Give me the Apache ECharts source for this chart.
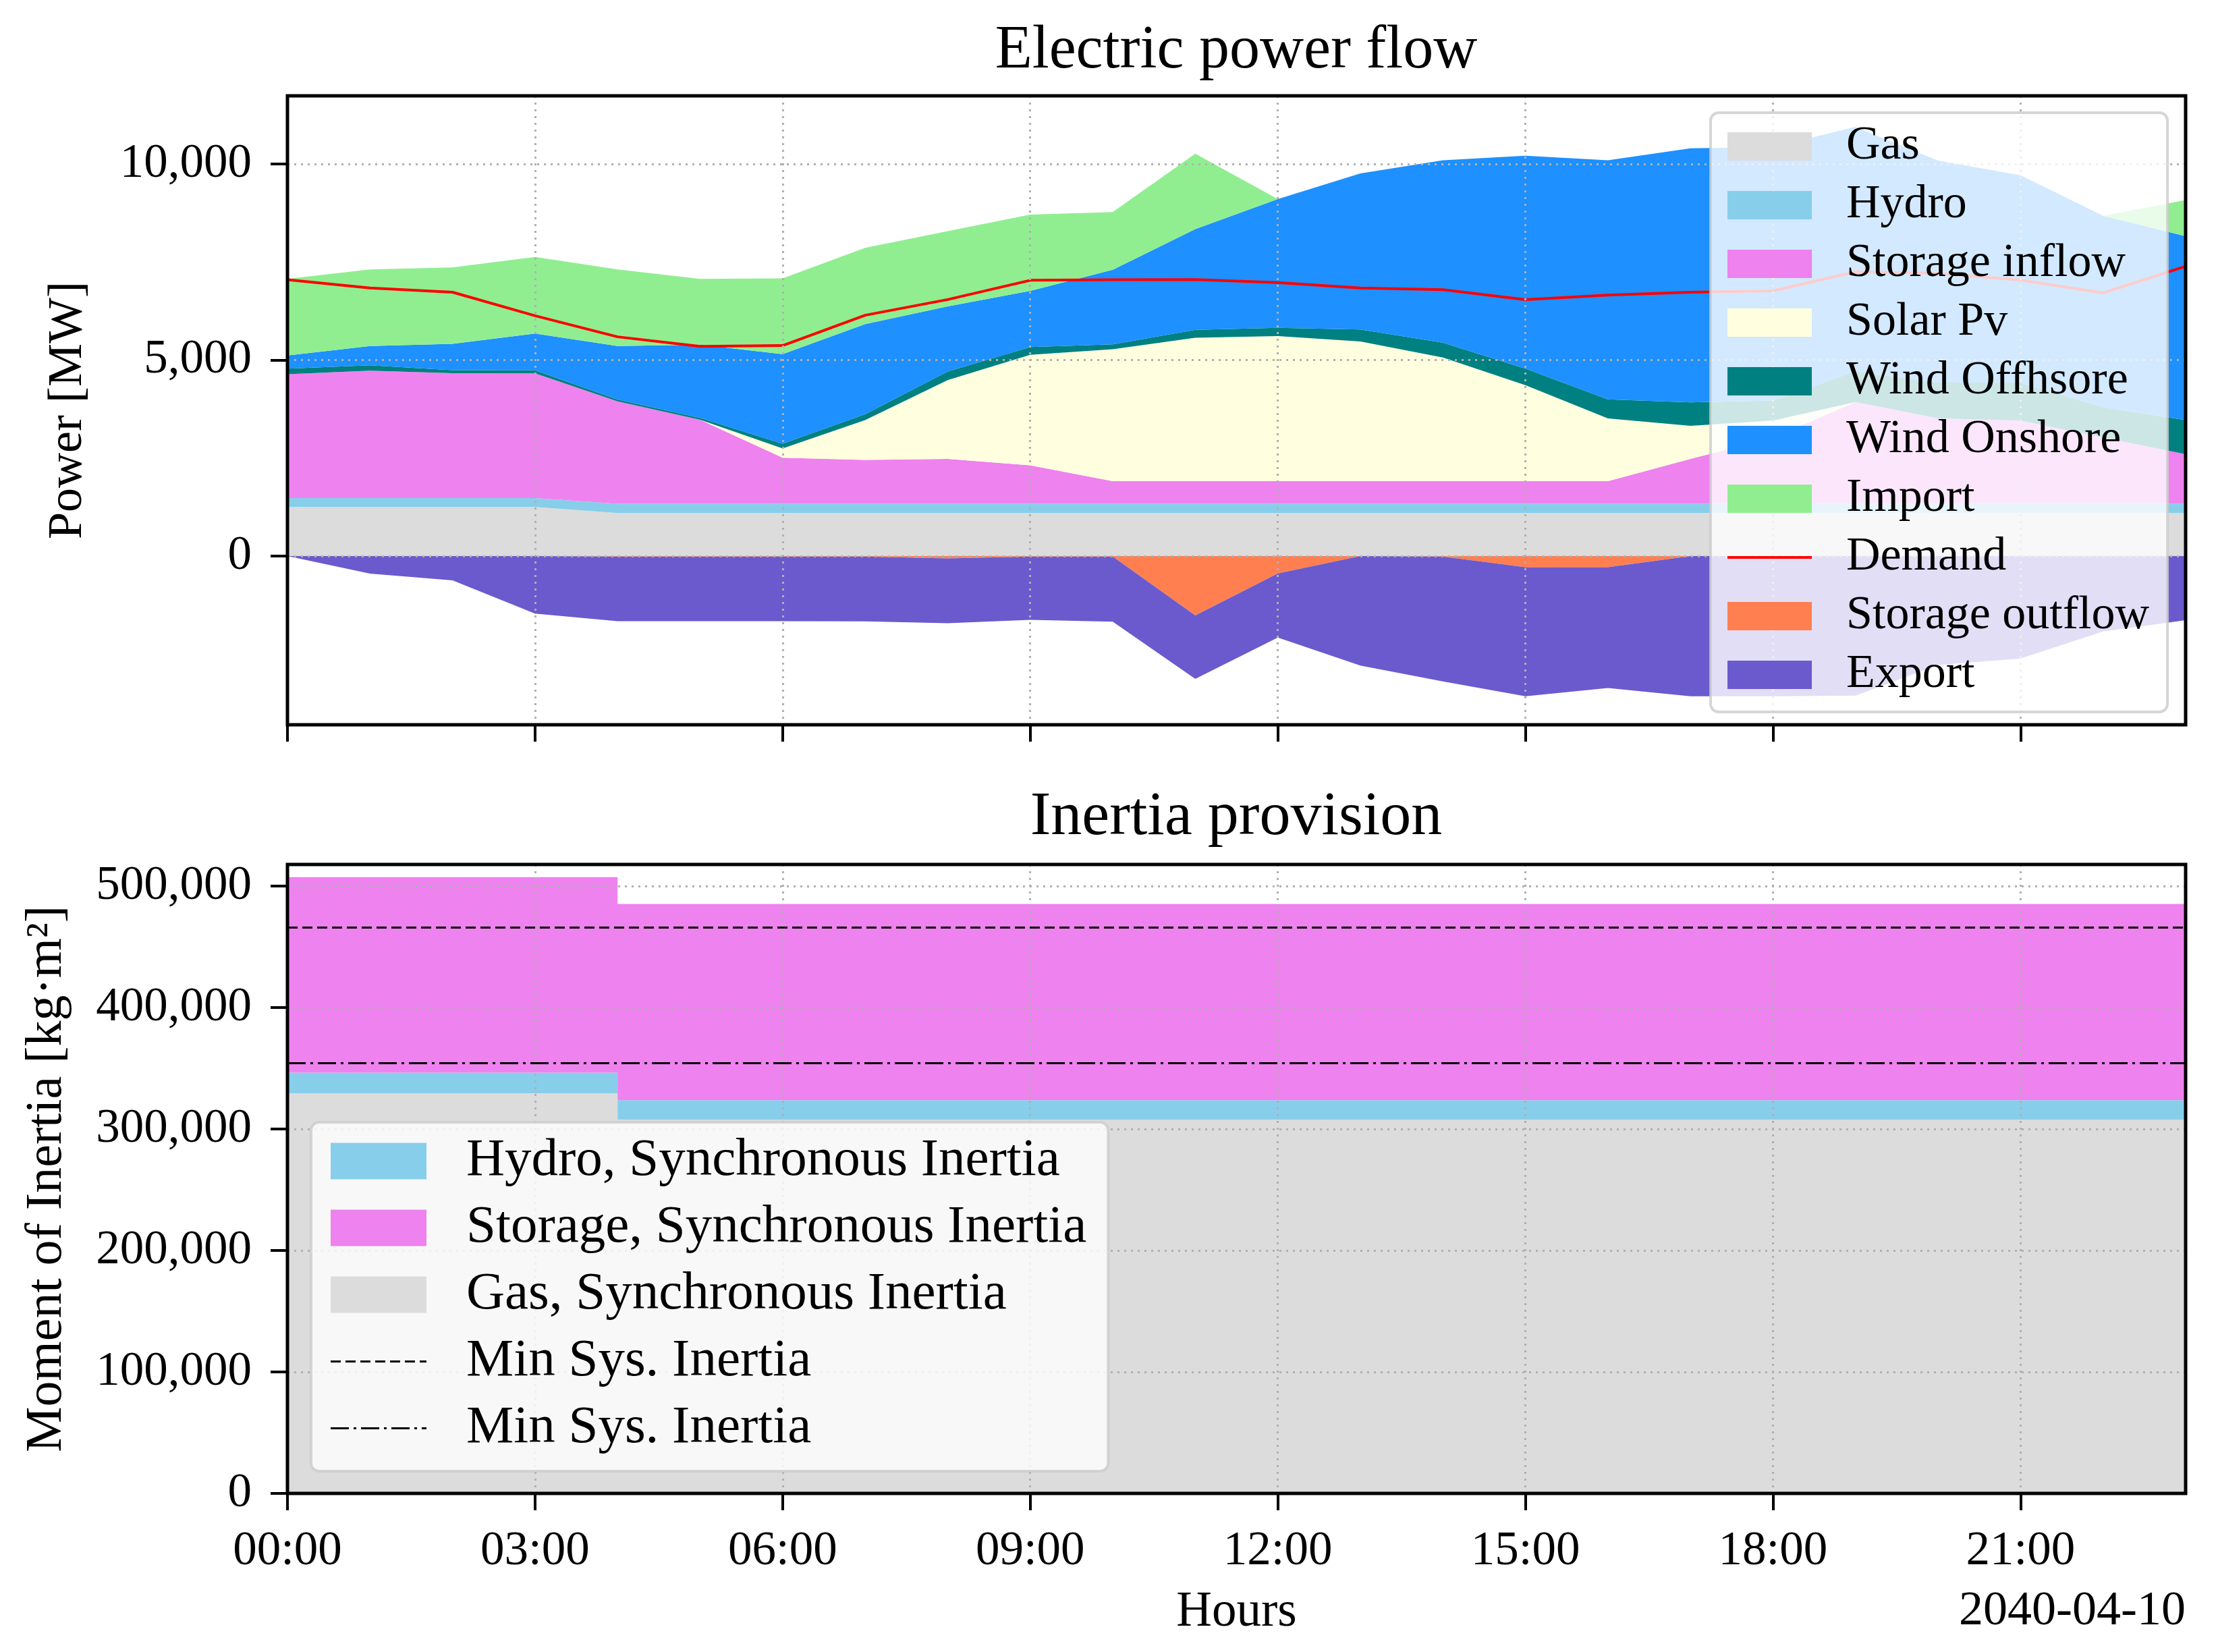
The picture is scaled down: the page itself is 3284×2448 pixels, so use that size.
<!DOCTYPE html>
<html><head><meta charset="utf-8">
<script src="https://cdn.jsdelivr.net/npm/echarts@6/dist/echarts.min.js"></script>
<style>html,body{margin:0;padding:0;background:#fff}#c{width:3284px;height:2448px}</style>
</head><body><div id="c"></div>
<script>
// ---------- data ----------
const hours = [0,1,2,3,4,5,6,7,8,9,10,11,12,13,14,15,16,17,18,19,20,21,22,23];
const hourLabels = ['00:00','01:00','02:00','03:00','04:00','05:00','06:00','07:00','08:00','09:00','10:00','11:00',
                    '12:00','13:00','14:00','15:00','16:00','17:00','18:00','19:00','20:00','21:00','22:00','23:00'];
const hourTicks = [0,3,6,9,12,15,18,21];

// Electric power flow [MW]
const gas           = [1250,1250,1250,1250,1095,1095,1095,1095,1095,1095,1095,1095,1095,1095,1095,1095,1095,1095,1095,1095,1095,1095,1095,1095];
const hydro         = [231,231,231,231,240,240,240,240,240,240,240,240,240,240,240,240,240,240,240,240,240,240,240,240];
const storageInflow = [3159,3249,3184,3179,2610,2143,1173,1117,1145,981,575,575,575,575,575,575,575,1142,1687,2595,2176,2118,1687,1265];
const solarPv       = [0,0,0,0,0,0,237,1018,2007,2819,3366,3660,3703,3565,3154,2447,1603,843,431,0,0,0,0,0];
const windOffshore  = [141,135,77,76,48,45,120,150,220,196,125,200,211,306,380,422,485,600,513,783,914,972,771,870];
const windOnshore   = [336,494,670,940,1366,1868,2285,2298,1663,1433,1902,2572,3281,3978,4652,5433,6098,6480,6465,6235,5661,5288,4885,4691];
const importFlow    = [1952,1952,1952,1952,1952,1678,1935,1944,1920,1944,1472,1921,0,0,0,0,0,0,0,0,0,0,0,919];
const demand        = [7047,6836,6731,6130,5592,5349,5370,6143,6543,7034,7050,7055,6974,6836,6794,6541,6657,6730,6764,7250,7213,7040,6713,7390];
const storageOutflow= [0,0,0,0,-15,-15,-15,-15,-60,-15,-15,-1515,-443,0,-15,-285,-285,0,0,0,0,0,0,0];
const exportFlow    = [0,-450,-620,-1470,-1648,-1648,-1648,-1653,-1655,-1615,-1660,-1619,-1635,-2796,-3182,-3291,-3080,-3576,-3576,-3559,-2780,-2612,-1923,-1636];
const powerTicks    = [0,5000,10000];

// Inertia provision [kg·m²]
const hydroInertia   = [17100,17100,17100,17100,16100,16100,16100,16100,16100,16100,16100,16100,16100,16100,16100,16100,16100,16100,16100,16100,16100,16100,16100,16100];
const storageInertia = [161000,161000,161000,161000,161500,161500,161500,161500,161500,161500,161500,161500,161500,161500,161500,161500,161500,161500,161500,161500,161500,161500,161500,161500];
const gasInertia     = [329300,329300,329300,329300,307700,307700,307700,307700,307700,307700,307700,307700,307700,307700,307700,307700,307700,307700,307700,307700,307700,307700,307700,307700];
const minSysInertia  = [466000, 354200];
const inertiaTicks   = [0,100000,200000,300000,400000,500000];

// ---------- chart ----------
const FONT = 'Liberation Serif';
const fmtNum = v => Number(v).toLocaleString('en-US');
const isHourTick = (i) => hourTicks.indexOf(hours[i]) >= 0;

function area(name, arr, color, stack, idx, step) {
  return {
    name, type:'line', stack, xAxisIndex: idx, yAxisIndex: idx, data: arr,
    step: step || false, symbol:'none', showSymbol:false, color,
    lineStyle:{width:0, color}, itemStyle:{color}, areaStyle:{color, opacity:1},
    emphasis:{disabled:true}, silent:true, z:2
  };
}

const grids = [
  {left:426, top:142, width:2813, height:932},
  {left:426, top:1281, width:2813, height:932}
].map(g => Object.assign(g, {show:true, borderColor:'#000', borderWidth:5, backgroundColor:'transparent', z:10, containLabel:false}));

const gridLine = {color:'#b0b0b0', width:3, type:[3,7]};
const xSplit = {show:true, interval: isHourTick, lineStyle: gridLine};
const xTick = {show:true, length:25, interval: isHourTick, lineStyle:{color:'#000', width:4}};

const xAxes = [
  {type:'category', gridIndex:0, data: hourLabels, boundaryGap:false, z:3, axisLine:{show:false, onZero:false},
   axisTick: xTick, axisLabel:{show:false}, splitLine: xSplit},
  {type:'category', gridIndex:1, data: hourLabels, boundaryGap:false, z:3, axisLine:{show:false, onZero:false},
   axisTick: xTick,
   axisLabel:{show:true, interval: isHourTick, fontFamily:FONT, fontSize:71, color:'#000', margin:51},
   splitLine: xSplit, name:'Hours', nameLocation:'middle', nameGap:140,
   nameTextStyle:{fontFamily:FONT, fontSize:73, color:'#000'}}
];
const yAxes = [
  {type:'value', gridIndex:0, min:-4305, max:11740, z:3, axisLine:{show:false, onZero:false},
   axisTick:{show:true, length:25, lineStyle:{color:'#000', width:4}, customValues: powerTicks},
   axisLabel:{customValues: powerTicks, formatter: fmtNum, fontFamily:FONT, fontSize:71, color:'#000', margin:53},
   splitLine:{show:true, lineStyle: gridLine}, name:'Power [MW]', nameLocation:'middle', nameGap:289,
   nameTextStyle:{fontFamily:FONT, fontSize:72, color:'#000'}},
  {type:'value', gridIndex:1, min:0, max:517800, z:3, axisLine:{show:false, onZero:false},
   axisTick:{show:true, length:25, lineStyle:{color:'#000', width:4}, customValues: inertiaTicks},
   axisLabel:{customValues: inertiaTicks, formatter: fmtNum, fontFamily:FONT, fontSize:71, color:'#000', margin:53},
   splitLine:{show:true, lineStyle: gridLine}, name:'Moment of Inertia [kg·m²]', nameLocation:'middle', nameGap:318,
   nameTextStyle:{fontFamily:FONT, fontSize:76, color:'#000'}}
];

const series = [
  area('Gas', gas, '#dcdcdc', 'pos', 0),
  area('Hydro', hydro, '#87ceeb', 'pos', 0),
  area('Storage inflow', storageInflow, '#ee82ee', 'pos', 0),
  area('Solar Pv', solarPv, '#ffffe0', 'pos', 0),
  area('Wind Offhsore', windOffshore, '#008080', 'pos', 0),
  area('Wind Onshore', windOnshore, '#1e90ff', 'pos', 0),
  area('Import', importFlow, '#90ee90', 'pos', 0),
  {name:'Demand', type:'line', xAxisIndex:0, yAxisIndex:0, data: demand, symbol:'none', showSymbol:false,
   color:'#ff0000', lineStyle:{color:'#ff0000', width:4}, emphasis:{disabled:true}, silent:true, z:2},
  area('Storage outflow', storageOutflow, '#ff7f50', 'neg', 0),
  area('Export', exportFlow, '#6a5acd', 'neg', 0),

  area('Gas, Synchronous Inertia', gasInertia, '#dcdcdc', 'inertia', 1, 'end'),
  area('Hydro, Synchronous Inertia', hydroInertia, '#87ceeb', 'inertia', 1, 'end'),
  area('Storage, Synchronous Inertia', storageInertia, '#ee82ee', 'inertia', 1, 'end'),
  {name:'Min Sys. Inertia', type:'line', xAxisIndex:1, yAxisIndex:1, data: [], color:'#000', z:3,
   markLine:{silent:true, symbol:'none', label:{show:false}, emphasis:{disabled:true},
     lineStyle:{color:'#000', width:3, type:[15,7]}, data:[{yAxis: minSysInertia[0]}]}},
  {name:'Min Sys. Inertia #2', type:'line', xAxisIndex:1, yAxisIndex:1, data: [], color:'#000', z:3,
   markLine:{silent:true, symbol:'none', label:{show:false}, emphasis:{disabled:true},
     lineStyle:{color:'#000', width:3, type:[27,7,4,7]}, data:[{yAxis: minSysInertia[1]}]}}
];

const legendName = n => n.replace(/ #2$/, '');
const lineIcon = 'path://M0,0H125V4H0Z';
const dashIcon = 'path://M0,0H15V3H0Z M22,0H37V3H22Z M44,0H59V3H44Z M66,0H81V3H66Z M88,0H103V3H88Z M110,0H125V3H110Z M132,0H142V3H132Z';
const dashDotIcon = 'path://M0,0H27V3H0Z M34,0H38V3H34Z M45,0H72V3H45Z M79,0H83V3H79Z M90,0H117V3H90Z M124,0H128V3H124Z M135,0H142V3H135Z';
const legends = [
  {orient:'vertical', left:2535, top:167, z:5, selectedMode:false,
   backgroundColor:'rgba(255,255,255,0.8)', borderColor:'rgba(204,204,204,0.8)', borderWidth:4, borderRadius:12,
   padding:[15,27,20,25], itemWidth:125, itemHeight:42, itemGap:17,
   textStyle:{fontFamily:FONT, fontSize:70, color:'#000', padding:[0,0,0,46]},
   formatter: legendName,
   data:[{name:'Gas',icon:'rect'},{name:'Hydro',icon:'rect'},{name:'Storage inflow',icon:'rect'},{name:'Solar Pv',icon:'rect'},
         {name:'Wind Offhsore',icon:'rect'},{name:'Wind Onshore',icon:'rect'},{name:'Import',icon:'rect'},
         {name:'Demand',icon:lineIcon},{name:'Storage outflow',icon:'rect'},{name:'Export',icon:'rect'}]},
  {orient:'vertical', left:461, top:1663, z:5, selectedMode:false,
   backgroundColor:'rgba(255,255,255,0.8)', borderColor:'rgba(204,204,204,0.8)', borderWidth:4, borderRadius:12,
   padding:[18,32,24,29], itemWidth:142, itemHeight:54, itemGap:20,
   textStyle:{fontFamily:FONT, fontSize:79, color:'#000', padding:[0,0,0,54]},
   formatter: legendName,
   data:[{name:'Hydro, Synchronous Inertia',icon:'rect'},{name:'Storage, Synchronous Inertia',icon:'rect'},
         {name:'Gas, Synchronous Inertia',icon:'rect'},{name:'Min Sys. Inertia',icon:dashIcon},{name:'Min Sys. Inertia #2',icon:dashDotIcon}]}
];

const graphic = [
  {type:'text', z:20, style:{text:'Electric power flow', x:1832, y:76, textAlign:'center', textVerticalAlign:'middle', font:'90px "Liberation Serif"', fill:'#000'}},
  {type:'text', z:20, style:{text:'Inertia provision', x:1832, y:1212, textAlign:'center', textVerticalAlign:'middle', font:'92px "Liberation Serif"', fill:'#000'}},
  {type:'text', z:20, style:{text:'2040-04-10', x:3239, y:2388, textAlign:'right', textVerticalAlign:'middle', font:'72px "Liberation Serif"', fill:'#000'}}
];

const chart = echarts.init(document.getElementById('c'), null, {renderer:'canvas', devicePixelRatio:1});
chart.setOption({
  animation:false, backgroundColor:'#fff',
  grid: grids, xAxis: xAxes, yAxis: yAxes, series, legend: legends, graphic
});
</script></body></html>
